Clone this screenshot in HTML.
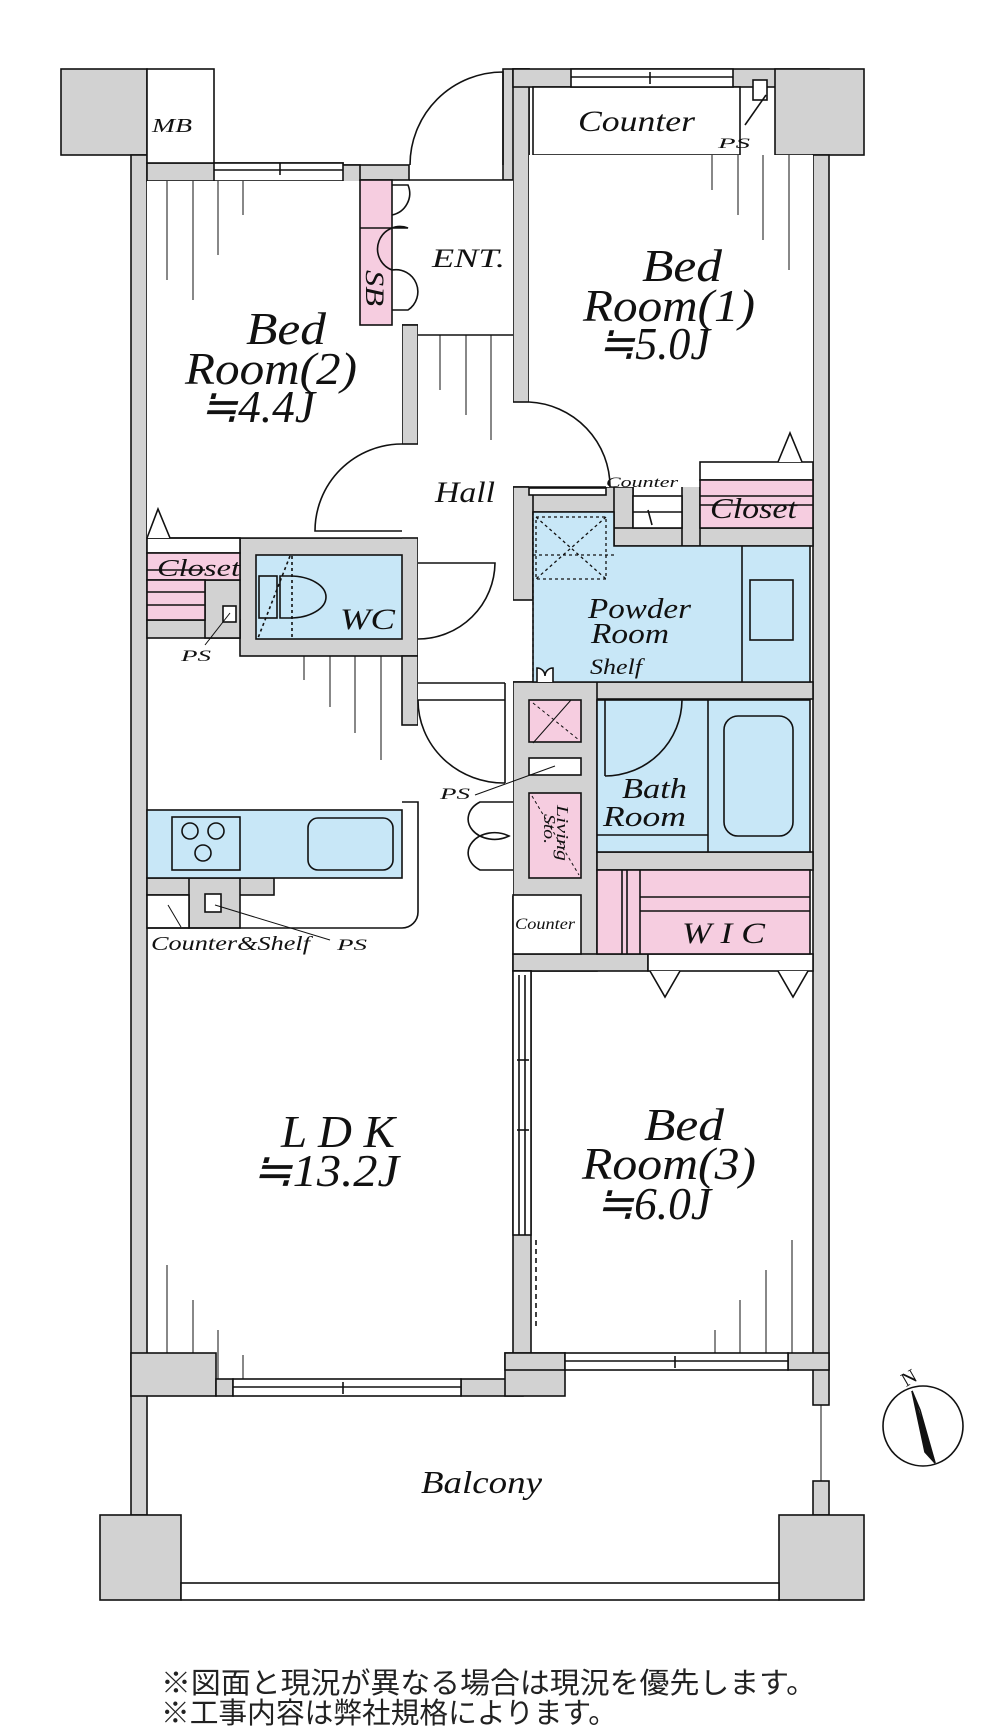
<!DOCTYPE html>
<html><head><meta charset="utf-8"><style>
html,body{margin:0;padding:0;background:#fff;}
svg{display:block}
.t{font-family:"Liberation Serif",serif;font-style:italic;fill:#111;}
.j{font-family:"Liberation Sans","Noto Sans CJK JP",sans-serif;fill:#222;}
</style></head><body>
<svg width="1000" height="1736" viewBox="0 0 1000 1736" xmlns="http://www.w3.org/2000/svg">
<g stroke="#111" stroke-width="1.6" fill="none">
<g fill="#d2d2d2">
<rect x="61" y="69" width="86" height="86"/>
<rect x="131" y="155" width="16" height="1360"/>
<rect x="147" y="163" width="196" height="18"/>
<rect x="342" y="165" width="67" height="15"/>
<rect x="342" y="165" width="18" height="177"/>
<rect x="342" y="325" width="76" height="17"/>
<rect x="402" y="325" width="16" height="119"/>
<rect x="503" y="69" width="26" height="111"/>
<rect x="513" y="69" width="16" height="333"/>
<rect x="513" y="69" width="316" height="18"/>
<rect x="775" y="69" width="89" height="86"/>
<rect x="813" y="155" width="16" height="1250"/>
<rect x="513" y="487" width="120" height="25"/>
<rect x="513" y="487" width="20" height="113"/>
<rect x="614" y="487" width="19" height="58"/>
<rect x="614" y="528" width="199" height="18"/>
<rect x="682" y="462" width="18" height="84"/>
<rect x="513" y="682" width="300" height="17"/>
<rect x="240" y="538" width="178" height="118"/>
<rect x="402" y="656" width="16" height="69"/>
<rect x="147" y="620" width="93" height="18"/>
<rect x="205" y="580" width="35" height="58"/>
<rect x="513" y="682" width="84" height="289"/>
<rect x="597" y="852" width="216" height="18"/>
<rect x="513" y="954" width="135" height="17"/>
<rect x="513" y="971" width="18" height="400"/>
<rect x="147" y="878" width="127" height="17"/>
<rect x="189" y="878" width="51" height="50"/>
<rect x="131" y="1353" width="85" height="43"/>
<rect x="216" y="1379" width="17" height="17"/>
<rect x="461" y="1379" width="62" height="17"/>
<rect x="505" y="1353" width="60" height="43"/>
<rect x="505" y="1353" width="60" height="17"/>
<rect x="788" y="1353" width="41" height="17"/>
<rect x="813" y="1481" width="16" height="34"/>
<rect x="100" y="1515" width="81" height="85"/>
<rect x="779" y="1515" width="85" height="85"/>
</g>
<g fill="#fff">
<rect x="147" y="69" width="67" height="94"/>
<rect x="214" y="163" width="129" height="18"/>
<rect x="533" y="87" width="207" height="68"/>
<rect x="571" y="69" width="162" height="18"/>
<rect x="529" y="155" width="284" height="332" stroke="none"/>
<rect x="147" y="181" width="255" height="357" stroke="none"/>
<rect x="418" y="180" width="95" height="500" stroke="none"/>
<rect x="418" y="656" width="95" height="240" stroke="none"/>
<rect x="529" y="488" width="77" height="7"/>
<rect x="633" y="496" width="49" height="32"/>
<rect x="700" y="462" width="113" height="18"/>
<rect x="147" y="538" width="93" height="15"/>
<rect x="529" y="758" width="52" height="17"/>
<rect x="513" y="895" width="68" height="59"/>
<rect x="648" y="954" width="165" height="17"/>
<rect x="147" y="895" width="42" height="33"/>
<rect x="565" y="1353" width="223" height="17"/>
<rect x="233" y="1379" width="228" height="17"/>
<rect x="181" y="1583" width="598" height="17"/>
</g>
<g fill="#f6cde0">
<rect x="360" y="180" width="32" height="145"/>
<rect x="700" y="480" width="113" height="48"/>
<rect x="147" y="553" width="93" height="27"/>
<rect x="147" y="580" width="58" height="40"/>
<rect x="529" y="700" width="52" height="42"/>
<rect x="529" y="793" width="52" height="85"/>
<rect x="597" y="870" width="213" height="84"/>
</g>
<g fill="#c8e7f7">
<path d="M533 512 H614 V546 H810 V682 H533 Z"/>
<rect x="256" y="555" width="146" height="84"/>
<rect x="597" y="700" width="213" height="152"/>
<rect x="147" y="810" width="255" height="68"/>
</g>
<line x1="360" y1="228" x2="392" y2="228"/>
<line x1="409" y1="180" x2="513" y2="180"/>
<line x1="418" y1="335" x2="513" y2="335"/>
<path d="M410 165 A93 93 0 0 1 503 72 V165"/>
<path d="M392 185 H408 A22 22 0 0 1 392 215"/>
<path d="M392 228 H408 A22 22 0 0 0 392 270 A22 22 0 0 1 408 310 H392"/>
<line x1="214" y1="170" x2="343" y2="170"/>
<line x1="280" y1="163" x2="280" y2="175"/>
<line x1="571" y1="77" x2="733" y2="77"/>
<line x1="650" y1="72" x2="650" y2="84"/>
<rect x="753" y="80" width="14" height="20" fill="#fff"/>
<line x1="766" y1="95" x2="745" y2="125"/>
<line x1="147" y1="538" x2="402" y2="538"/>
<path d="M402 444 A87 87 0 0 0 315 531 H402"/>
<path d="M529 402 A85 85 0 0 1 610 487"/>
<line x1="529" y1="487" x2="606" y2="487"/>
<line x1="700" y1="496" x2="813" y2="496"/>
<line x1="648" y1="510" x2="652" y2="525"/>
<line x1="633" y1="512" x2="682" y2="512"/>
<path d="M147 538 L158 509 L170 538" fill="#fff"/>
<path d="M778 462 L790 433 L802 462" fill="#fff"/>
<line x1="147" y1="570" x2="205" y2="570" /><line x1="147" y1="592" x2="205" y2="592"/><line x1="147" y1="605" x2="205" y2="605"/>
<line x1="700" y1="505" x2="813" y2="505"/>
<rect x="223" y="606" width="13" height="16" fill="#fff"/>
<line x1="230" y1="613" x2="205" y2="645" stroke-width="1"/>
<path d="M418 563 H495 A77 77 0 0 1 418 639"/>
<rect x="259" y="576" width="18" height="42" fill="#c8e7f7"/>
<path d="M280 576 H290 A36 21 0 0 1 290 618 H280 Z" fill="#c8e7f7"/>
<line x1="290" y1="556" x2="258" y2="638" stroke-dasharray="3 3"/>
<line x1="292" y1="556" x2="292" y2="639" stroke-dasharray="3 3"/>
<line x1="742" y1="546" x2="742" y2="682"/>
<rect x="750" y="580" width="43" height="60"/>
<g stroke-dasharray="3 3" stroke-width="1.3">
<rect x="536" y="517" width="70" height="62"/>
<line x1="536" y1="517" x2="606" y2="579"/><line x1="606" y1="517" x2="536" y2="579"/>
<line x1="533" y1="555" x2="614" y2="555"/>
<line x1="533" y1="512" x2="533" y2="680"/>
</g>
<path d="M537 682 V668 A8 8 0 0 1 545 676 A8 8 0 0 1 553 668 V682" fill="#fff"/>
<line x1="533" y1="743" x2="571" y2="700" stroke-width="1"/>
<line x1="533" y1="703" x2="579" y2="740" stroke-dasharray="3 3" stroke-width="1"/>
<line x1="532" y1="796" x2="579" y2="875" stroke-dasharray="3 3" stroke-width="1"/>
<line x1="418" y1="683" x2="505" y2="683"/>
<line x1="418" y1="700" x2="505" y2="700"/>
<line x1="505" y1="683" x2="505" y2="783"/>
<path d="M418 700 A86 83 0 0 0 505 783"/>
<line x1="555" y1="766" x2="475" y2="795" stroke-width="1"/>
<path d="M513 802 H480 A22 17 0 0 0 509 836 A22 17 0 0 0 480 870 H513"/>
<line x1="605" y1="700" x2="605" y2="776"/>
<path d="M605 776 A77 77 0 0 0 682 700"/>
<line x1="708" y1="700" x2="708" y2="852"/>
<line x1="597" y1="835" x2="708" y2="835"/>
<rect x="724" y="716" width="69" height="120" rx="14"/>
<line x1="622" y1="870" x2="622" y2="954"/><line x1="627" y1="870" x2="627" y2="954"/><line x1="640" y1="870" x2="640" y2="954"/>
<line x1="640" y1="897" x2="810" y2="897"/><line x1="640" y1="911" x2="810" y2="911"/>
<path d="M650 971 L665 997 L680 971" fill="#fff"/>
<path d="M778 971 L793 997 L808 971" fill="#fff"/>
<rect x="172" y="817" width="68" height="53"/>
<circle cx="190" cy="831" r="8"/><circle cx="216" cy="831" r="8"/><circle cx="203" cy="853" r="8"/>
<rect x="308" y="818" width="85" height="52" rx="10"/>
<path d="M402 802 H418 V912 A16 16 0 0 1 402 928 H147"/>
<rect x="205" y="894" width="16" height="18" fill="#fff"/>
<line x1="215" y1="905" x2="330" y2="940" stroke-width="1"/>
<line x1="168" y1="905" x2="181" y2="927" stroke-width="1"/>
<rect x="513" y="971" width="18" height="264" fill="#fff"/>
<line x1="519" y1="975" x2="519" y2="1235"/><line x1="525" y1="975" x2="525" y2="1235"/>
<line x1="517" y1="1060" x2="529" y2="1060"/><line x1="517" y1="1130" x2="529" y2="1130"/>
<line x1="536" y1="1240" x2="536" y2="1330" stroke-dasharray="5 4"/>
<line x1="233" y1="1387" x2="461" y2="1387"/><line x1="343" y1="1382" x2="343" y2="1394"/>
<line x1="565" y1="1361" x2="788" y2="1361"/><line x1="675" y1="1356" x2="675" y2="1368"/>
<line x1="821" y1="1405" x2="821" y2="1481" stroke-width="1"/>
<g stroke-width="1">
<line x1="167" y1="181" x2="167" y2="280"/><line x1="193" y1="181" x2="193" y2="300"/><line x1="218" y1="181" x2="218" y2="255"/><line x1="243" y1="181" x2="243" y2="215"/>
<line x1="712" y1="155" x2="712" y2="190"/><line x1="738" y1="155" x2="738" y2="215"/><line x1="763" y1="155" x2="763" y2="240"/><line x1="789" y1="155" x2="789" y2="270"/>
<line x1="440" y1="335" x2="440" y2="390"/><line x1="466" y1="335" x2="466" y2="415"/><line x1="491" y1="335" x2="491" y2="440"/>
<line x1="304" y1="656" x2="304" y2="680"/><line x1="330" y1="656" x2="330" y2="707"/><line x1="355" y1="656" x2="355" y2="733"/><line x1="381" y1="656" x2="381" y2="760"/>
<line x1="167" y1="1353" x2="167" y2="1265"/><line x1="193" y1="1353" x2="193" y2="1300"/><line x1="218" y1="1379" x2="218" y2="1330"/><line x1="243" y1="1379" x2="243" y2="1355"/>
<line x1="715" y1="1353" x2="715" y2="1330"/><line x1="740" y1="1353" x2="740" y2="1300"/><line x1="766" y1="1353" x2="766" y2="1270"/><line x1="792" y1="1353" x2="792" y2="1240"/>
</g>
<circle cx="923" cy="1426" r="40" fill="#fff"/>
<path d="M912 1391 L935 1463 L925 1452 Z" fill="#111"/>
<path d="M912 1391 L935 1463 L920 1410 Z" fill="#fff"/>
</g>
<g class="t">
<text x="152" y="132" font-size="20" textLength="40" lengthAdjust="spacingAndGlyphs">MB</text>
<text x="578" y="131" font-size="30" textLength="117" lengthAdjust="spacingAndGlyphs">Counter</text>
<text x="718" y="148" font-size="15" textLength="32" lengthAdjust="spacingAndGlyphs">PS</text>
<text x="366" y="270" font-size="26" transform="rotate(90 366 270)" textLength="36" lengthAdjust="spacingAndGlyphs">SB</text>
<text x="432" y="267" font-size="26" textLength="73" lengthAdjust="spacingAndGlyphs">ENT.</text>
<text x="246" y="344" font-size="46" textLength="80" lengthAdjust="spacingAndGlyphs">Bed</text>
<text x="185" y="384" font-size="46" textLength="172" lengthAdjust="spacingAndGlyphs">Room(2)</text>
<text x="200" y="422" font-size="46" textLength="115" lengthAdjust="spacingAndGlyphs">≒4.4J</text>
<text x="642" y="281" font-size="46" textLength="80" lengthAdjust="spacingAndGlyphs">Bed</text>
<text x="583" y="321" font-size="46" textLength="172" lengthAdjust="spacingAndGlyphs">Room(1)</text>
<text x="598" y="359" font-size="46" textLength="112" lengthAdjust="spacingAndGlyphs">≒5.0J</text>
<text x="435" y="502" font-size="30" textLength="60" lengthAdjust="spacingAndGlyphs">Hall</text>
<text x="606" y="487" font-size="15" textLength="72" lengthAdjust="spacingAndGlyphs">Counter</text>
<text x="710" y="518" font-size="28" textLength="87" lengthAdjust="spacingAndGlyphs">Closet</text>
<text x="157" y="576" font-size="24" textLength="83" lengthAdjust="spacingAndGlyphs">Closet</text>
<text x="340" y="629" font-size="30" textLength="55" lengthAdjust="spacingAndGlyphs">WC</text>
<text x="181" y="661" font-size="16" textLength="30" lengthAdjust="spacingAndGlyphs">PS</text>
<text x="588" y="618" font-size="28" textLength="103" lengthAdjust="spacingAndGlyphs">Powder</text>
<text x="591" y="643" font-size="28" textLength="78" lengthAdjust="spacingAndGlyphs">Room</text>
<text x="590" y="674" font-size="22" textLength="52" lengthAdjust="spacingAndGlyphs">Shelf</text>
<text x="622" y="798" font-size="28" textLength="65" lengthAdjust="spacingAndGlyphs">Bath</text>
<text x="603" y="826" font-size="28" textLength="83" lengthAdjust="spacingAndGlyphs">Room</text>
<text x="440" y="799" font-size="16" textLength="30" lengthAdjust="spacingAndGlyphs">PS</text>
<text x="557" y="805" font-size="17" transform="rotate(90 557 805)" textLength="56" lengthAdjust="spacingAndGlyphs">Living</text>
<text x="544" y="814" font-size="17" transform="rotate(90 544 814)" textLength="30" lengthAdjust="spacingAndGlyphs">Sto.</text>
<text x="515" y="929" font-size="16" textLength="60" lengthAdjust="spacingAndGlyphs">Counter</text>
<text x="682" y="943" font-size="30" textLength="83" lengthAdjust="spacingAndGlyphs">W I C</text>
<text x="151" y="950" font-size="20" textLength="159" lengthAdjust="spacingAndGlyphs">Counter&amp;Shelf</text>
<text x="337" y="950" font-size="16" textLength="30" lengthAdjust="spacingAndGlyphs">PS</text>
<text x="281" y="1147" font-size="46" textLength="114" lengthAdjust="spacingAndGlyphs">L D K</text>
<text x="252" y="1186" font-size="46" textLength="147" lengthAdjust="spacingAndGlyphs">≒13.2J</text>
<text x="644" y="1140" font-size="46" textLength="80" lengthAdjust="spacingAndGlyphs">Bed</text>
<text x="582" y="1179" font-size="46" textLength="174" lengthAdjust="spacingAndGlyphs">Room(3)</text>
<text x="596" y="1219" font-size="46" textLength="115" lengthAdjust="spacingAndGlyphs">≒6.0J</text>
<text x="421" y="1493" font-size="32" textLength="121" lengthAdjust="spacingAndGlyphs">Balcony</text>
<text x="900" y="1385" font-size="20" font-style="normal" transform="rotate(-30 907 1375)">N</text>
</g>
<g class="j">
<text x="161" y="1693" font-size="29" textLength="655" lengthAdjust="spacingAndGlyphs">※図面と現況が異なる場合は現況を優先します。</text>
<text x="161" y="1723" font-size="29" textLength="456" lengthAdjust="spacingAndGlyphs">※工事内容は弊社規格によります。</text>
</g>
</svg>
</body></html>
